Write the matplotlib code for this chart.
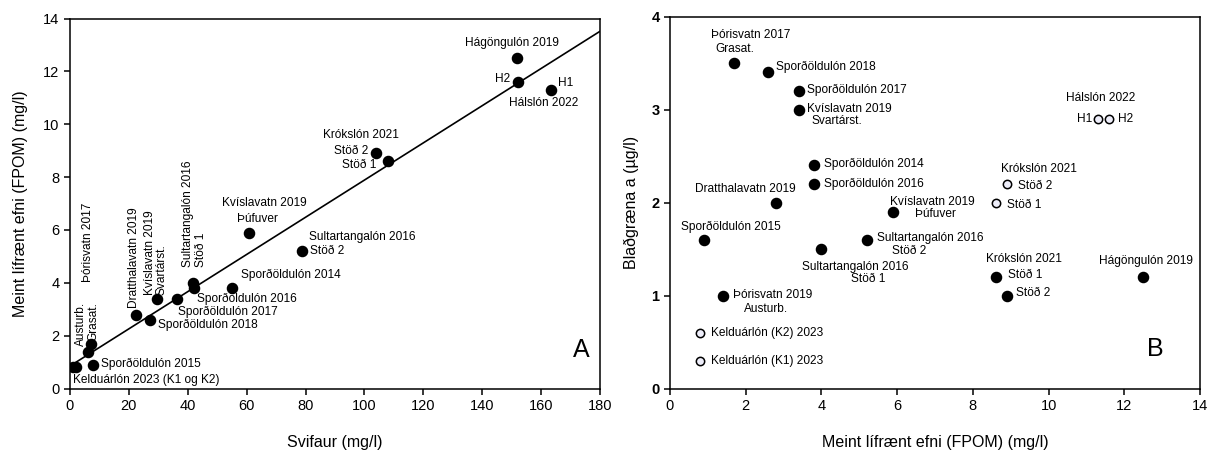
import numpy as np
import matplotlib
matplotlib.use("Agg")
import matplotlib.pyplot as plt

plt.rcParams['font.family'] = ['Liberation Sans', 'DejaVu Sans']

# ---- Panel A: suspended sediment (Svifaur) vs FPOM ----
a_names = ["Kelduárlón K1", "Kelduárlón K2", "Sporðöldulón 2015", "Þórisvatn 2019 Austurb.",
           "Þórisvatn 2017 Grasat.", "Dratthalavatn 2019", "Sporðöldulón 2018",
           "Kvíslavatn 2019 Svartárst.", "Sporðöldulón 2017", "Sultartangalón 2016 Stöð 1",
           "Sporðöldulón 2016", "Sporðöldulón 2014", "Kvíslavatn 2019 Þúfuver",
           "Sultartangalón 2016 Stöð 2", "Krókslón 2021 Stöð 2", "Krókslón 2021 Stöð 1",
           "Hágöngulón 2019", "Hálslón 2022 H2", "Hálslón 2022 H1"]
a_svifaur = [0.9, 2.0, 7.9, 6.0, 7.1, 22.5, 27.1, 29.7, 36.4, 41.9, 42.2, 55.1, 60.7,
             78.9, 103.9, 108.1, 151.8, 152.1, 163.4]
a_fpom = [0.8, 0.8, 0.9, 1.4, 1.7, 2.8, 2.6, 3.4, 3.4, 4.0, 3.8, 3.8, 5.9,
          5.2, 8.9, 8.6, 12.5, 11.6, 11.3]
a_xticks = [0, 20, 40, 60, 80, 100, 120, 140, 160, 180]
a_yticks = [0, 2, 4, 6, 8, 10, 12, 14]

# ---- Panel B: FPOM vs chlorophyll a ----
b_names_filled = ["Þórisvatn 2017 Grasat.", "Sporðöldulón 2018", "Sporðöldulón 2017",
                  "Kvíslavatn 2019 Svartárst.", "Sporðöldulón 2014", "Sporðöldulón 2016",
                  "Dratthalavatn 2019", "Kvíslavatn 2019 Þúfuver", "Sporðöldulón 2015",
                  "Sultartangalón 2016 Stöð 1", "Sultartangalón 2016 Stöð 2",
                  "Þórisvatn 2019 Austurb.", "Krókslón 2021 Stöð 1", "Krókslón 2021 Stöð 2",
                  "Hágöngulón 2019"]
b_fpom_filled = [1.7, 2.6, 3.4, 3.4, 3.8, 3.8, 2.8, 5.9, 0.9, 4.0, 5.2, 1.4, 8.6, 8.9, 12.5]
b_chl_filled = [3.5, 3.4, 3.2, 3.0, 2.4, 2.2, 2.0, 1.9, 1.6, 1.5, 1.6, 1.0, 1.2, 1.0, 1.2]

b_names_open = ["Kelduárlón (K2) 2023", "Kelduárlón (K1) 2023", "Hálslón 2022 H1",
                "Hálslón 2022 H2", "Krókslón 2021 Stöð 2", "Krókslón 2021 Stöð 1"]
b_fpom_open = [0.8, 0.8, 11.3, 11.6, 8.9, 8.6]
b_chl_open = [0.6, 0.3, 2.9, 2.9, 2.2, 2.0]
b_xticks = [0, 2, 4, 6, 8, 10, 12, 14]
b_yticks = [0, 1, 2, 3, 4]

W, H = 1213, 454
fig = plt.figure(figsize=(W / 100, H / 100), dpi=100)
axA = fig.add_axes([70 / W, 1 - 388.5 / H, 530 / W, 370 / H])
axB = fig.add_axes([670 / W, 1 - 388.5 / H, 530 / W, 372 / H])

LBL = 8.6


def style(ax):
    for s in ax.spines.values():
        s.set_linewidth(1.1)
    ax.tick_params(direction='out', length=4, width=1.1, labelsize=10.5,
                   top=False, right=False)


def label(ax, xy, text, dx, dy, ha='left', rot=0):
    """Place text at a pixel offset from a data point (dy positive = up)."""
    if rot:
        ax.annotate(text, xy, xytext=(dx, dy), textcoords='offset pixels',
                    ha='center', va='bottom', rotation=90, fontsize=LBL)
    else:
        ax.annotate(text, xy, xytext=(dx, dy), textcoords='offset pixels',
                    ha=ha, va='center', fontsize=LBL)


# ----- Panel A -----
style(axA)
axA.set_xlim(0, 180)
axA.set_ylim(0, 14)
axA.set_xticks(a_xticks)
axA.set_yticks(a_yticks)
axA.plot(a_svifaur, a_fpom, 'o', color='black', markersize=7.3, zorder=3)
slope, icpt = np.polyfit(a_svifaur, a_fpom, 1)
xl = np.array([0, 180])
axA.plot(xl, icpt + slope * xl, color='black', lw=1.2)
axA.set_xlabel("Svifaur (mg/l)", fontsize=11.5, labelpad=16)
axA.set_ylabel("Meint lífrænt efni (FPOM) (mg/l)", fontsize=11.5, labelpad=11)
axA.text(0.965, 0.105, "A", transform=axA.transAxes, fontsize=18, ha='center', va='center')

P = {n: (x, y) for n, x, y in zip(a_names, a_svifaur, a_fpom)}
label(axA, P["Kelduárlón K1"], "Kelduárlón 2023 (K1 og K2)", 0, -13)
label(axA, P["Sporðöldulón 2015"], "Sporðöldulón 2015", 8, 1)
label(axA, P["Þórisvatn 2019 Austurb."], "Austurb.", -7, 5, rot=90)
label(axA, P["Þórisvatn 2017 Grasat."], "Grasat.", 2, 3, rot=90)
label(axA, P["Þórisvatn 2017 Grasat."], "Þórisvatn 2017", -3, 62, rot=90)
label(axA, P["Dratthalavatn 2019"], "Dratthalavatn 2019", -2, 6, rot=90)
label(axA, P["Kvíslavatn 2019 Svartárst."], "Kvíslavatn 2019", -7, 4, rot=90)
label(axA, P["Kvíslavatn 2019 Svartárst."], "Svartárst.", 4, 4, rot=90)
label(axA, P["Sultartangalón 2016 Stöð 1"], "Sultartangalón 2016", -5, 16, rot=90)
label(axA, P["Sultartangalón 2016 Stöð 1"], "Stöð 1", 8, 16, rot=90)
label(axA, P["Kvíslavatn 2019 Þúfuver"], "Kvíslavatn 2019", 16, 30, ha='center')
label(axA, P["Kvíslavatn 2019 Þúfuver"], "Þúfuver", 9, 14, ha='center')
label(axA, P["Sporðöldulón 2014"], "Sporðöldulón 2014", 9, 13)
label(axA, P["Sporðöldulón 2016"], "Sporðöldulón 2016", 3, -11)
label(axA, P["Sporðöldulón 2017"], "Sporðöldulón 2017", 1, -13)
label(axA, P["Sporðöldulón 2018"], "Sporðöldulón 2018", 8, -5)
label(axA, P["Sultartangalón 2016 Stöð 2"], "Sultartangalón 2016", 7, 14)
label(axA, P["Sultartangalón 2016 Stöð 2"], "Stöð 2", 8, 0)
label(axA, P["Krókslón 2021 Stöð 2"], "Krókslón 2021", -15, 18, ha='center')
label(axA, P["Krókslón 2021 Stöð 2"], "Stöð 2", -8, 2, ha='right')
label(axA, P["Krókslón 2021 Stöð 1"], "Stöð 1", -12, -4, ha='right')
label(axA, P["Hágöngulón 2019"], "Hágöngulón 2019", -5, 15, ha='center')
label(axA, P["Hálslón 2022 H2"], "H2", -8, 3, ha='right')
label(axA, P["Hálslón 2022 H1"], "H1", 7, 7)
label(axA, P["Hálslón 2022 H1"], "Hálslón 2022", -7, -13, ha='center')

# ----- Panel B -----
style(axB)
axB.set_xlim(0, 14)
axB.set_ylim(0, 4)
axB.set_xticks(b_xticks)
axB.set_yticks(b_yticks)
for t in axB.get_yticklabels():
    t.set_fontweight('bold')
axB.plot(b_fpom_filled, b_chl_filled, 'o', color='black', markersize=7.3, zorder=3)
axB.plot(b_fpom_open, b_chl_open, 'o', mfc='#eeeefa', mec='black', mew=1.1,
         markersize=6, zorder=3)
axB.set_xlabel("Meint lífrænt efni (FPOM) (mg/l)", fontsize=11.5, labelpad=16)
axB.set_ylabel("Blaðgræna a (µg/l)", fontsize=11.5, labelpad=9)
axB.text(0.915, 0.105, "B", transform=axB.transAxes, fontsize=18, ha='center', va='center')

F = {n: (x, y) for n, x, y in zip(b_names_filled, b_fpom_filled, b_chl_filled)}
O = {n: (x, y) for n, x, y in zip(b_names_open, b_fpom_open, b_chl_open)}
label(axB, F["Þórisvatn 2017 Grasat."], "Þórisvatn 2017", 16, 28, ha='center')
label(axB, F["Þórisvatn 2017 Grasat."], "Grasat.", 0, 14, ha='center')
label(axB, F["Sporðöldulón 2018"], "Sporðöldulón 2018", 8, 5)
label(axB, F["Sporðöldulón 2017"], "Sporðöldulón 2017", 8, 1)
label(axB, F["Kvíslavatn 2019 Svartárst."], "Kvíslavatn 2019", 8, 0)
label(axB, F["Kvíslavatn 2019 Svartárst."], "Svartárst.", 38, -11, ha='center')
label(axB, F["Sporðöldulón 2014"], "Sporðöldulón 2014", 10, 1)
label(axB, F["Sporðöldulón 2016"], "Sporðöldulón 2016", 10, 0)
label(axB, F["Dratthalavatn 2019"], "Dratthalavatn 2019", -31, 13, ha='center')
label(axB, F["Kvíslavatn 2019 Þúfuver"], "Kvíslavatn 2019", -3, 10)
label(axB, F["Kvíslavatn 2019 Þúfuver"], "Þúfuver", 42, -2, ha='center')
label(axB, F["Sporðöldulón 2015"], "Sporðöldulón 2015", 27, 13, ha='center')
label(axB, F["Sultartangalón 2016 Stöð 2"], "Sultartangalón 2016", 10, 2)
label(axB, F["Sultartangalón 2016 Stöð 2"], "Stöð 2", 42, -11, ha='center')
label(axB, F["Sultartangalón 2016 Stöð 1"], "Sultartangalón 2016", 34, -18, ha='center')
label(axB, F["Sultartangalón 2016 Stöð 1"], "Stöð 1", 47, -30, ha='center')
label(axB, F["Þórisvatn 2019 Austurb."], "Þórisvatn 2019", 10, 0)
label(axB, F["Þórisvatn 2019 Austurb."], "Austurb.", 43, -13, ha='center')
label(axB, O["Kelduárlón (K2) 2023"], "Kelduárlón (K2) 2023", 11, 0)
label(axB, O["Kelduárlón (K1) 2023"], "Kelduárlón (K1) 2023", 11, 0)
label(axB, O["Hálslón 2022 H1"], "Hálslón 2022", 3, 21, ha='center')
label(axB, O["Hálslón 2022 H1"], "H1", -6, 0, ha='right')
label(axB, O["Hálslón 2022 H2"], "H2", 9, 0)
label(axB, O["Krókslón 2021 Stöð 2"], "Krókslón 2021", 32, 15, ha='center')
label(axB, O["Krókslón 2021 Stöð 2"], "Stöð 2", 11, -2)
label(axB, O["Krókslón 2021 Stöð 1"], "Stöð 1", 11, -3)
label(axB, F["Krókslón 2021 Stöð 1"], "Krókslón 2021", 28, 18, ha='center')
label(axB, F["Krókslón 2021 Stöð 1"], "Stöð 1", 12, 2)
label(axB, F["Krókslón 2021 Stöð 2"], "Stöð 2", 9, 2)
label(axB, F["Hágöngulón 2019"], "Hágöngulón 2019", 3, 16, ha='center')

fig.savefig("out.png", dpi=100)
